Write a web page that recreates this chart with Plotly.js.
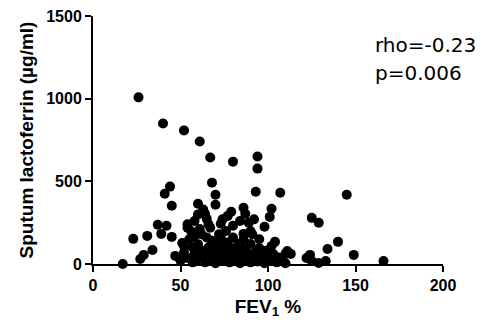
<!DOCTYPE html>
<html>
<head>
<meta charset="utf-8">
<script src="https://cdn.plot.ly/plotly-3.0.1.min.js"></script>
<style>html,body{margin:0;padding:0;background:#fff;}#chart{width:489px;height:327px;}</style>
</head>
<body>
<div id="chart"></div>
<script>
// FEV1 % (x) and sputum lactoferrin µg/ml (y)
const fev1 = [
  26,40,52,61,67,80,94,94,68,93,107,70,44,41,45,60,70,64,77,79,86,87,89,102,101,98,86,80,67,73,
  104,102,95,90,84,111,110,37,42,39,45,54,58,23,31,34,29,27,17,47,51,52,54,145,125,129,140,134,149,166,
  113,124,125,129,133,122,
  55,57,58,59,60,61,62,63,64,65,65,66,67,67,68,69,70,70,71,72,72,73,74,75,75,76,77,78,78,79,
  80,81,82,83,84,85,86,87,88,89,90,91,92,93,94,95,96,97,98,99,100,102,103,105,106,108,110,
  56,58,62,66,60,63,74,84,90,92,57,50,52,54
];
const lactoferrin = [
  1008,850,808,741,644,619,650,577,492,437,431,419,468,425,352,364,358,304,291,316,340,304,249,334,285,225,182,231,219,243,
  134,109,97,121,121,79,61,237,231,182,164,219,170,152,170,85,55,30,0,49,127,109,36,419,279,249,134,91,55,18,
  61,55,18,6,18,36,
  150,100,60,20,120,212,80,40,10,273,160,100,79,30,140,55,128,5,90,180,40,158,110,20,70,200,130,50,10,95,
  160,30,75,121,5,45,150,90,25,60,10,180,40,75,15,150,55,30,5,80,40,20,60,10,40,25,5,
  200,260,180,240,300,330,270,260,200,270,10,20,70,240
];
const xTicks = [0, 50, 100, 150, 200];
const yTicks = [0, 500, 1000, 1500];
const statLines = ["rho=-0.23", "p=0.006"];

const trace = {
  x: fev1, y: lactoferrin, type: 'scatter', mode: 'markers',
  marker: {color: '#000', size: 10, line: {width: 0}},
  cliponaxis: false, hoverinfo: 'none'
};

const axisCommon = {
  showline: true, linecolor: '#000', linewidth: 2,
  ticks: 'outside', ticklen: 6, tickwidth: 2, tickcolor: '#000',
  showgrid: false, zeroline: false, fixedrange: true,
  tickfont: {family: 'Liberation Sans, Arial, sans-serif', size: 16, color: '#000', weight: 'bold'}
};

const layout = {
  width: 489, height: 327,
  margin: {l: 93, r: 46, t: 16, b: 63},
  paper_bgcolor: '#fff', plot_bgcolor: '#fff',
  showlegend: false,
  xaxis: Object.assign({}, axisCommon, {
    range: [0, 200], tickvals: xTicks, ticktext: xTicks.map(String),
    title: {text: 'FEV<sub>1</sub> %', standoff: 6,
      font: {family: 'Liberation Sans, Arial, sans-serif', size: 19, color: '#000', weight: 'bold'}}
  }),
  yaxis: Object.assign({}, axisCommon, {
    range: [0, 1500], tickvals: yTicks, ticktext: yTicks.map(String),
    title: {text: 'Sputum lactoferrin (µg/ml)', standoff: 8,
      font: {family: 'Liberation Sans, Arial, sans-serif', size: 19, color: '#000', weight: 'bold'}}
  }),
  annotations: [
    {xref: 'paper', yref: 'paper', x: 0.8, y: 0.885, xanchor: 'left', yanchor: 'middle',
     text: statLines[0], showarrow: false,
     font: {family: 'DejaVu Sans, sans-serif', size: 20, color: '#000'}},
    {xref: 'paper', yref: 'paper', x: 0.8, y: 0.77, xanchor: 'left', yanchor: 'middle',
     text: statLines[1], showarrow: false,
     font: {family: 'DejaVu Sans, sans-serif', size: 20, color: '#000'}}
  ]
};

Plotly.newPlot('chart', [trace], layout, {displayModeBar: false, staticPlot: true});
</script>
</body>
</html>
